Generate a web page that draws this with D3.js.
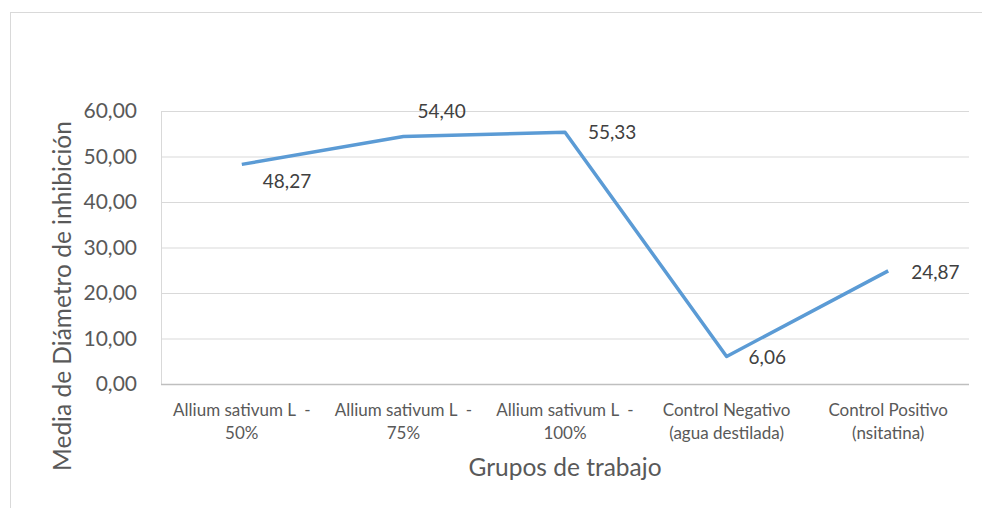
<!DOCTYPE html>
<html>
<head>
<meta charset="utf-8">
<script src="https://cdn.jsdelivr.net/npm/d3@7"></script>
<style>
  body { margin: 0; background: #fff; }
  svg { font-family: Lato, "Open Sans", sans-serif; }
</style>
</head>
<body>
<div id="chart"></div>
<script>
var categories = [
    ["Allium sativum L  -", "50%"],
    ["Allium sativum L  -", "75%"],
    ["Allium sativum L  -", "100%"],
    ["Control Negativo", "(agua destilada)"],
    ["Control Positivo", "(nsitatina)"]
];
var values = [48.27, 54.40, 55.33, 6.06, 24.87];
var yTicks = [0, 10, 20, 30, 40, 50, 60];
var yTitle = "Media de Diámetro de inhibición";
var xTitle = "Grupos de trabajo";

var width = 982, height = 508;
var plotLeft = 161, plotRight = 969, plotTop = 111, plotBottom = 384;

var svg = d3.select("#chart").append("svg")
    .attr("width", width)
    .attr("height", height);

// outer chart border
svg.append("rect")
    .attr("x", 10.5).attr("y", 12.5)
    .attr("width", 990).attr("height", 520)
    .attr("fill", "none")
    .attr("stroke", "#d9d9d9");

var keys = categories.map(function(c, i) { return i; });

var x = d3.scaleBand()
    .domain(keys)
    .range([plotLeft, plotRight]);

var y = d3.scaleLinear()
    .domain([0, 60])
    .range([plotBottom, plotTop]);

var fmt = function(d) { return d.toFixed(2).replace(".", ","); };

// y axis + gridlines
var yAxis = svg.append("g")
    .attr("transform", "translate(" + plotLeft + ",0)")
    .call(d3.axisLeft(y)
        .tickValues(yTicks)
        .tickSize(-(plotRight - plotLeft))
        .tickPadding(24)
        .tickFormat(fmt));

yAxis.select(".domain").remove();
yAxis.selectAll("line").attr("stroke", "#d9d9d9");
yAxis.selectAll("text")
    .attr("fill", "#595959")
    .style("font-size", "21px")
    .style("font-family", "Lato");

// the left edge line
svg.append("line")
    .attr("x1", plotLeft + 0.5).attr("x2", plotLeft + 0.5)
    .attr("y1", plotTop).attr("y2", plotBottom)
    .attr("stroke", "#d9d9d9");

// x axis line
svg.append("line")
    .attr("x1", plotLeft).attr("x2", plotRight)
    .attr("y1", plotBottom + 0.5).attr("y2", plotBottom + 0.5)
    .attr("stroke", "#bfbfbf")
    .attr("stroke-width", 1.5);

// category labels, two lines each
var catLabels = svg.append("g").selectAll("text")
    .data(categories)
    .join("text")
    .attr("x", function(d, i) { return x(i) + x.bandwidth() / 2; })
    .attr("y", 416)
    .attr("text-anchor", "middle")
    .attr("fill", "#595959")
    .style("white-space", "pre")
    .style("font-size", "17px");

catLabels.selectAll("tspan")
    .data(function(d) { return d; })
    .join("tspan")
    .attr("x", function() { return this.parentNode.getAttribute("x"); })
    .attr("dy", function(d, i) { return i == 0 ? 0 : 23; })
    .text(function(d) { return d; });

// the line
var line = d3.line()
    .x(function(d, i) { return x(i) + x.bandwidth() / 2; })
    .y(function(d) { return y(d); });

svg.append("path")
    .datum(values)
    .attr("d", line)
    .attr("fill", "none")
    .attr("stroke", "#5b9bd5")
    .attr("stroke-width", 3.5)
    .attr("stroke-linejoin", "round");

// data labels, nudged like the original
var labelShift = [[21, 24], [14, -18], [23, 7], [22, 8], [23, 8]];

svg.append("g").selectAll("text")
    .data(values)
    .join("text")
    .attr("x", function(d, i) { return x(i) + x.bandwidth() / 2 + labelShift[i][0]; })
    .attr("y", function(d, i) { return y(d) + labelShift[i][1]; })
    .attr("fill", "#404040")
    .style("font-size", "19px")
    .text(fmt);

// axis titles
svg.append("text")
    .attr("transform", "translate(71,296) rotate(-90)")
    .attr("text-anchor", "middle")
    .attr("fill", "#595959")
    .style("font-size", "24.5px")
    .text(yTitle);

svg.append("text")
    .attr("x", 565)
    .attr("y", 476)
    .attr("text-anchor", "middle")
    .attr("fill", "#595959")
    .style("font-size", "24.5px")
    .text(xTitle);
</script>
</body>
</html>
